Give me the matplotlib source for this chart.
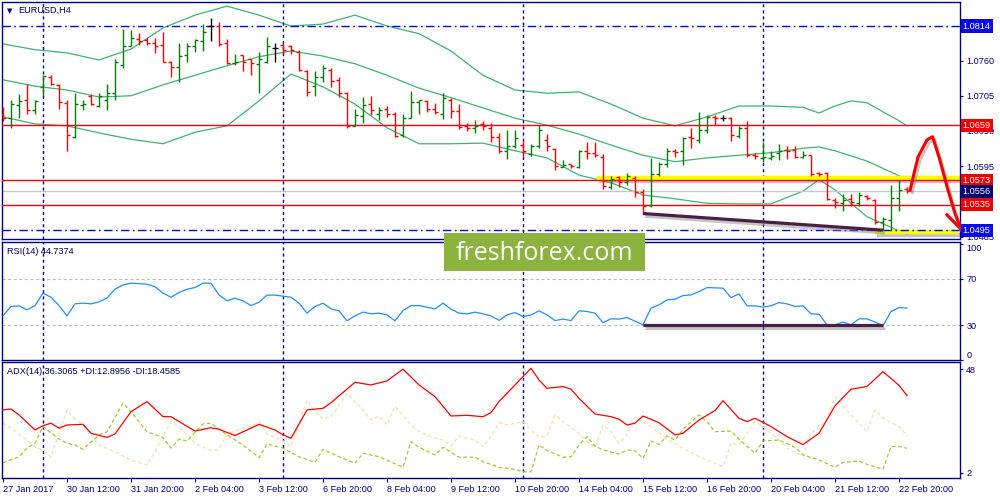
import matplotlib
matplotlib.use('Agg')
from matplotlib import pyplot as plt
from matplotlib import patheffects as pe
from matplotlib import transforms
from matplotlib.collections import LineCollection
from matplotlib.patches import Rectangle

plt.rcParams['font.family'] = ['Liberation Sans', 'DejaVu Sans']

NAVY = '#000080'
UP = '#0a7a0a'
DOWN = '#ff0000'

# EURUSD H4 bars (index 0 = 27 Jan 2017)
opens = [1.0677, 1.0670, 1.0691, 1.0699, 1.0683, 1.0719, 1.0735, 1.0722, 1.0693, 1.0641,
         1.0691, 1.0704, 1.0689, 1.0698, 1.0710, 1.0753, 1.0783, 1.0793, 1.0792, 1.0788,
         1.0784, 1.0757, 1.0750, 1.0769, 1.0782, 1.0791, 1.0814, 1.0814, 1.0788, 1.0756,
         1.0768, 1.0762, 1.0755, 1.0757, 1.0779, 1.0785, 1.0783, 1.0774, 1.0744, 1.0720,
         1.0734, 1.0745, 1.0730, 1.0710, 1.0658, 1.0673, 1.0692, 1.0677, 1.0685, 1.0676,
         1.0644, 1.0671, 1.0696, 1.0697, 1.0685, 1.0677, 1.0699, 1.0681, 1.0657, 1.0654,
         1.0661, 1.0654, 1.0641, 1.0618, 1.0626, 1.0628, 1.0614, 1.0627, 1.0636, 1.0622,
         1.0594, 1.0598, 1.0594, 1.0618, 1.0616, 1.0610, 1.0563, 1.0578, 1.0571, 1.0576,
         1.0554, 1.0534, 1.0583, 1.0599, 1.0619, 1.0618, 1.0640, 1.0636, 1.0651, 1.0672,
         1.0671, 1.0670, 1.0642, 1.0654, 1.0612, 1.0607, 1.0607, 1.0615, 1.0620, 1.0620,
         1.0610, 1.0612, 1.0584, 1.0585, 1.0542, 1.0537, 1.0543, 1.0538, 1.0548, 1.0542,
         1.0508, 1.0511, 1.0545, 1.0560]
highs = [1.0688, 1.0698, 1.0707, 1.0723, 1.0698, 1.0737, 1.0737, 1.0724, 1.0698, 1.0709,
         1.0698, 1.0707, 1.0710, 1.0723, 1.0763, 1.0810, 1.0808, 1.0803, 1.0795, 1.0796,
         1.0804, 1.0759, 1.0787, 1.0787, 1.0793, 1.0817, 1.0826, 1.0821, 1.0793, 1.0771,
         1.0769, 1.0763, 1.0774, 1.0797, 1.0787, 1.0788, 1.0785, 1.0776, 1.0745, 1.0743,
         1.0753, 1.0748, 1.0735, 1.0711, 1.0684, 1.0703, 1.0705, 1.0688, 1.0689, 1.0679,
         1.0676, 1.0713, 1.0699, 1.0698, 1.0693, 1.0709, 1.0701, 1.0692, 1.0663, 1.0667,
         1.0666, 1.0662, 1.0647, 1.0651, 1.0651, 1.0635, 1.0630, 1.0659, 1.0645, 1.0623,
         1.0605, 1.0599, 1.0620, 1.0632, 1.0632, 1.0614, 1.0579, 1.0579, 1.0584, 1.0579,
         1.0560, 1.0607, 1.0602, 1.0623, 1.0622, 1.0641, 1.0655, 1.0679, 1.0675, 1.0675,
         1.0675, 1.0672, 1.0657, 1.0665, 1.0615, 1.0633, 1.0618, 1.0630, 1.0627, 1.0626,
         1.0618, 1.0613, 1.0586, 1.0586, 1.0545, 1.0552, 1.0552, 1.0554, 1.0550, 1.0543,
         1.0515, 1.0566, 1.0574, 1.0562]
lows = [1.0666, 1.0655, 1.0670, 1.0677, 1.0677, 1.0705, 1.0722, 1.0685, 1.0618, 1.0639,
        1.0683, 1.0691, 1.0688, 1.0683, 1.0698, 1.0748, 1.0782, 1.0785, 1.0785, 1.0772,
        1.0757, 1.0735, 1.0727, 1.0758, 1.0774, 1.0775, 1.0791, 1.0782, 1.0755, 1.0753,
        1.0743, 1.0737, 1.0710, 1.0756, 1.0757, 1.0771, 1.0771, 1.0743, 1.0705, 1.0704,
        1.0727, 1.0719, 1.0703, 1.0654, 1.0657, 1.0662, 1.0675, 1.0667, 1.0672, 1.0641,
        1.0640, 1.0670, 1.0677, 1.0680, 1.0676, 1.0668, 1.0671, 1.0653, 1.0650, 1.0647,
        1.0651, 1.0633, 1.0615, 1.0606, 1.0623, 1.0610, 1.0611, 1.0624, 1.0619, 1.0589,
        1.0593, 1.0592, 1.0592, 1.0606, 1.0610, 1.0560, 1.0560, 1.0563, 1.0566, 1.0547,
        1.0521, 1.0531, 1.0579, 1.0594, 1.0610, 1.0597, 1.0623, 1.0631, 1.0647, 1.0659,
        1.0666, 1.0635, 1.0639, 1.0610, 1.0606, 1.0602, 1.0605, 1.0605, 1.0606, 1.0608,
        1.0607, 1.0580, 1.0579, 1.0542, 1.0529, 1.0525, 1.0532, 1.0533, 1.0542, 1.0505,
        1.0495, 1.0495, 1.0525, 1.0553]
closes = [1.0671, 1.0692, 1.0697, 1.0682, 1.0697, 1.0736, 1.0723, 1.0696, 1.0644, 1.0692,
          1.0692, 1.0692, 1.0704, 1.0709, 1.0758, 1.0783, 1.0795, 1.0790, 1.0788, 1.0782,
          1.0758, 1.0750, 1.0767, 1.0782, 1.0792, 1.0805, 1.0814, 1.0786, 1.0756, 1.0758,
          1.0757, 1.0756, 1.0763, 1.0783, 1.0779, 1.0776, 1.0776, 1.0745, 1.0711, 1.0734,
          1.0748, 1.0728, 1.0710, 1.0658, 1.0675, 1.0691, 1.0683, 1.0683, 1.0676, 1.0642,
          1.0670, 1.0696, 1.0698, 1.0684, 1.0679, 1.0701, 1.0681, 1.0656, 1.0654, 1.0658,
          1.0658, 1.0641, 1.0618, 1.0626, 1.0639, 1.0619, 1.0627, 1.0651, 1.0626, 1.0596,
          1.0597, 1.0595, 1.0618, 1.0615, 1.0612, 1.0564, 1.0575, 1.0571, 1.0579, 1.0554,
          1.0532, 1.0583, 1.0598, 1.0618, 1.0617, 1.0639, 1.0639, 1.0651, 1.0672, 1.0670,
          1.0671, 1.0644, 1.0654, 1.0612, 1.0611, 1.0610, 1.0611, 1.0618, 1.0618, 1.0610,
          1.0612, 1.0583, 1.0583, 1.0543, 1.0539, 1.0542, 1.0539, 1.0550, 1.0546, 1.0508,
          1.0513, 1.0545, 1.0558, 1.0556]

# Bollinger bands (read every few bars)
bb_up_x = [0, 4, 8, 12, 16, 20, 24, 28, 32, 36, 40, 44, 48, 52, 56, 60, 64, 68, 72, 76,
           80, 84, 88, 92, 96, 100, 102, 104, 106, 108, 112, 113]
bb_up = [1.0786, 1.0777, 1.0772, 1.0761, 1.0778, 1.0811, 1.0831, 1.0845, 1.0831, 1.0814,
         1.0817, 1.0831, 1.0814, 1.0802, 1.0775, 1.0737, 1.0714, 1.0709, 1.0711, 1.0692,
         1.0670, 1.0658, 1.0672, 1.0689, 1.0689, 1.0687, 1.0678, 1.0689, 1.0697, 1.0694,
         1.0666, 1.0658]
bb_mid_x = [0, 4, 8, 12, 16, 20, 24, 28, 32, 36, 40, 44, 48, 52, 56, 60, 64, 68, 72, 76,
            80, 84, 88, 92, 96, 100, 102, 104, 108, 112, 113]
bb_mid = [1.0730, 1.0720, 1.0714, 1.0703, 1.0705, 1.0722, 1.0737, 1.0752, 1.0766, 1.0775,
          1.0767, 1.0755, 1.0737, 1.0717, 1.0702, 1.0686, 1.0670, 1.0659, 1.0645, 1.0628,
          1.0612, 1.0602, 1.0608, 1.0612, 1.0616, 1.0623, 1.0625, 1.0619, 1.0603, 1.0580,
          1.0574]
bb_low_x = bb_mid_x
bb_low = [1.0672, 1.0661, 1.0658, 1.0647, 1.0637, 1.0630, 1.0648, 1.0658, 1.0697, 1.0739,
          1.0719, 1.0692, 1.0655, 1.0630, 1.0630, 1.0631, 1.0619, 1.0608, 1.0581, 1.0569,
          1.0550, 1.0544, 1.0537, 1.0536, 1.0536, 1.0556, 1.0574, 1.0558, 1.0516, 1.0494,
          1.0489]

# RSI(14)
rsi_x = [0, 1, 2, 3, 4, 5, 6, 7, 8, 9, 10, 11, 12, 13, 14, 15, 16,
         18, 19, 20, 21, 22, 23, 24, 25, 26, 27, 28, 29, 30, 31, 32, 33, 34,
         36, 37, 38, 39, 40, 41, 42, 43, 44, 45, 46, 47, 48, 49, 50, 51, 52,
         54, 55, 56, 57, 58, 59, 60, 61, 62, 63, 64, 65, 66, 67, 68, 69, 70, 71, 72, 73, 74,
         75, 76, 77, 78,
         80, 81, 82, 83, 84, 85, 86, 87, 88,
         90, 91, 92, 93, 94, 95, 96, 97, 98, 99, 100, 101, 102, 103, 104, 105, 106, 107,
         108, 109, 110, 111, 112, 113]
rsi = [38.0, 46.0, 46.6, 43.1, 46.8, 57.5, 54.0, 46.8, 38.0, 48.3, 48.9, 48.3, 50.0, 53.2,
       60.9, 64.6, 66.1,
       65.2, 63.1, 57.5, 54.0, 58.0, 60.9, 62.3, 66.1, 66.1, 56.0, 50.9, 53.2, 50.9, 46.8,
       49.7, 55.8, 55.8,
       54.0, 48.9, 40.3, 46.0, 48.9, 44.0, 42.3, 33.7, 38.0, 41.2, 39.7, 40.3, 38.8, 33.7,
       42.5, 46.8, 46.8,
       44.0, 48.9, 43.7, 40.3, 39.7, 41.2, 39.7, 38.0, 34.1, 38.8, 40.8, 37.4, 38.8, 42.3,
       38.8, 33.9, 35.2, 33.9, 42.3, 41.7, 40.3, 32.2, 35.4, 35.2, 36.5,
       30.3, 44.6, 47.4, 51.7, 52.3, 55.4, 56.0, 58.8, 62.3,
       61.8, 53.7, 56.9, 46.6, 46.6, 45.5, 46.6, 49.4, 48.3, 46.0, 46.6, 39.7, 39.4, 30.3,
       30.3, 32.6, 30.3, 35.4, 35.4, 32.6, 29.7, 41.7, 45.1, 44.7]

# ADX(14), +DI, -DI
adx_x = [0, 1, 2, 4, 5, 6, 7, 8, 10, 11, 13, 14, 16, 18, 20, 21, 24, 26, 27, 29,
         32, 34, 35, 36, 38, 40, 41, 44, 46, 48, 50, 52, 54, 56, 58, 60, 61, 62, 64, 66,
         67, 68, 70, 71, 72, 74, 76, 77, 78, 79, 80, 82, 84, 85, 87, 89, 90, 92, 93, 94,
         96, 98, 100, 102, 104, 106, 108, 110, 111, 112, 113]
adx = [29.9, 30.3, 27.7, 21.0, 22.9, 24.0, 21.8, 23.2, 23.5, 19.5, 17.7, 19.2, 29.1, 33.6,
       26.9, 26.9, 20.5, 22.0, 21.3, 18.5, 23.5, 21.0, 18.8, 17.3, 29.9, 30.6, 33.1, 42.2,
       41.0, 42.8, 48.0, 41.0, 35.8, 27.2, 27.5, 26.9, 28.7, 33.6, 41.0, 48.4, 43.2, 39.5,
       40.3, 39.1, 35.1, 28.1, 26.9, 25.8, 23.2, 24.0, 27.2, 24.2, 18.8, 19.5, 25.4, 29.6,
       34.0, 26.2, 24.7, 26.2, 22.5, 18.0, 14.5, 19.5, 31.7, 39.1, 40.3, 46.9, 43.9, 40.8,
       36.3]
pdi_x = [0, 2, 3, 4, 5, 7, 8, 9, 10, 12, 13, 15, 16, 18, 20, 21, 22, 23, 25, 26,
         28, 30, 32, 33, 35, 37, 39, 40, 42, 44, 45, 47, 50, 51, 52, 54, 55, 57, 59, 60,
         62, 64, 65, 66, 67, 68, 70, 71, 72, 73, 74, 75, 77, 78, 79, 80, 81, 82, 83, 84,
         85, 87, 88, 89, 91, 92, 94, 95, 97, 99, 100, 102, 104, 105, 106, 107, 108, 110,
         111, 112, 113]
pdi = [6.4, 9.1, 12.9, 15.1, 22.5, 16.9, 15.1, 14.3, 12.4, 18.8, 20.2, 32.9, 29.1, 20.2,
       17.7, 12.9, 16.9, 16.1, 23.7, 24.0, 18.8, 14.3, 8.7, 14.8, 12.9, 9.1, 6.6, 12.4,
       9.1, 6.2, 10.6, 9.1, 4.4, 15.8, 13.3, 9.9, 13.3, 8.9, 8.9, 6.9, 4.4, 3.5, 2.4, 2.4,
       14.3, 11.8, 8.9, 9.1, 14.3, 18.0, 13.9, 12.1, 10.3, 12.1, 11.8, 8.4, 16.1, 14.6,
       18.3, 16.5, 21.3, 27.7, 24.7, 20.2, 20.5, 16.9, 10.6, 16.1, 16.5, 13.3, 9.9, 7.7,
       4.4, 6.6, 6.9, 7.2, 5.7, 3.5, 13.6, 13.6, 12.9]
mdi_x = [0, 1, 3, 4, 5, 6, 8, 9, 10, 12, 14, 16, 18, 19, 21, 22, 24, 26, 27, 28,
         30, 31, 32, 33, 35, 36, 38, 39, 40, 41, 43, 45, 46, 47, 48, 49, 51, 52, 54, 55,
         56, 57, 59, 60, 61, 62, 63, 65, 66, 67, 68, 69, 70, 72, 73, 74, 75, 76, 77, 78,
         79, 81, 83, 85, 87, 89, 90, 91, 92, 94, 95, 97, 98, 100, 101, 103, 104, 105, 106,
         108, 109, 110, 112, 113]
mdi = [24.2, 21.8, 16.5, 13.3, 12.1, 8.9, 29.9, 25.8, 23.2, 14.3, 11.3, 7.6, 5.4, 11.3,
       24.7, 22.5, 15.1, 11.8, 12.4, 19.2, 21.8, 22.5, 24.7, 19.2, 16.2, 13.6, 34.3, 29.1,
       25.8, 26.9, 37.3, 29.9, 25.4, 27.2, 23.2, 31.4, 23.2, 20.2, 17.3, 16.5, 13.9, 18.3,
       16.5, 13.6, 18.0, 24.3, 23.2, 24.7, 21.0, 17.7, 18.3, 27.7, 24.7, 19.5, 15.8, 13.3,
       23.2, 20.2, 15.1, 18.8, 26.6, 22.5, 16.9, 12.9, 9.1, 6.2, 4.7, 15.1, 14.3, 24.7,
       22.5, 16.5, 12.9, 9.4, 19.5, 25.4, 35.8, 31.7, 27.7, 20.2, 29.9, 26.2, 22.5, 18.5]

date_bars = [0, 8, 16, 24, 32, 40, 48, 56, 64, 72, 80, 88, 96, 104, 112]
date_labels = ['27 Jan 2017', '30 Jan 12:00', '31 Jan 20:00', '2 Feb 04:00', '3 Feb 12:00',
               '6 Feb 20:00', '8 Feb 04:00', '9 Feb 12:00', '10 Feb 20:00', '14 Feb 04:00',
               '15 Feb 12:00', '16 Feb 20:00', '20 Feb 04:00', '21 Feb 12:00', '22 Feb 20:00']
week_bars = [5, 35, 65, 95]

price_ticks = [1.0485, 1.0540, 1.0595, 1.0650, 1.0705, 1.0760, 1.0815]
price_tick_labels = ['1.0485', '', '1.0595', '1.0650', '1.0705', '1.0760', '']
red_levels = [1.0659, 1.0573, 1.0535]
blue_levels = [1.0814, 1.0495]
bid = 1.0556
price_tags = [(1.0814, '#0a0ae6'), (1.0659, '#f00000'), (1.0573, '#f00000'),
              (1.0556, '#00006e'), (1.0535, '#f00000'), (1.0495, '#0a0ae6')]

# drawn objects
zone_top_x = [74.25, 119.6]
zone_top_y = 1.0576
zone_bot_x = [109.0, 119.4]
zone_bot_y = 1.0492
trend_x = [80, 110]
trend_y = [1.0521, 1.0495]
rsi_trend_x = [80, 110]
rsi_trend_y = [30.2, 30.2]
arrow_x = [113.4, 113.9, 114.4, 115.5, 116.2, 117.1, 118.0, 119.0, 119.8]
arrow_y = [1.0558, 1.0585, 1.0610, 1.0636, 1.0641, 1.0605, 1.0563, 1.0521, 1.0495]
wing_x = [118.0, 119.8]
wing_y = [1.0519, 1.0496]

XMIN, XMAX = -0.125, 119.625


def style_panel(a):
    a.set_xlim(XMIN, XMAX)
    for s in a.spines.values():
        s.set_color(NAVY)
        s.set_linewidth(1)
    a.yaxis.tick_right()
    a.tick_params(axis='y', direction='out', length=2.5, width=0.8, color=NAVY,
                  labelcolor=NAVY, labelsize=6.6, pad=2)
    a.tick_params(axis='x', bottom=False, labelbottom=False)
    for b in week_bars:
        a.axvline(b, color=NAVY, lw=1, ls=(0, (2.2, 2.2)), zorder=1.5)


shadow = [pe.SimpleLineShadow(offset=(1.5, -2), shadow_color='gray', alpha=0.45), pe.Normal()]

fig = plt.figure(figsize=(10, 5), dpi=100)
ax = fig.add_axes([0.002, 0.522, 0.958, 0.474])
ax_rsi = fig.add_axes([0.002, 0.28, 0.958, 0.236])
ax_adx = fig.add_axes([0.002, 0.044, 0.958, 0.232])

# ---- price panel
style_panel(ax)
ax.set_ylim(1.04812, 1.08515)
ax.set_yticks(price_ticks)
ax.set_yticklabels(price_tick_labels)

ax.plot(bb_up_x, bb_up, color='#3cb371', lw=0.9, zorder=1)
ax.plot(bb_mid_x, bb_mid, color='#3cb371', lw=0.9, zorder=1)
ax.plot(bb_low_x, bb_low, color='#3cb371', lw=0.9, zorder=1)

ax.axhline(bid, color='#c8c8c8', lw=1, zorder=1.2)
ax.plot(zone_top_x, [zone_top_y] * 2, color='#ffff00', lw=3.2, zorder=2,
        solid_capstyle='butt', path_effects=shadow)
ax.plot(zone_bot_x, [zone_bot_y] * 2, color='#ffff00', lw=3.2, zorder=2,
        solid_capstyle='butt', path_effects=shadow)
for lvl in red_levels:
    ax.axhline(lvl, color='#ff0000', lw=1, zorder=3)
for lvl in blue_levels:
    ax.axhline(lvl, color='#0000ff', lw=1, ls=(0, (6, 2.5, 1.2, 2.5)), zorder=3)

segs, cols = [], []
for i in range(len(opens)):
    o, h, l, c = opens[i], highs[i], lows[i], closes[i]
    col = UP if c > o else (DOWN if c < o else 'black')
    segs += [[(i, l), (i, h)], [(i - 0.375, o), (i, o)], [(i, c), (i + 0.375, c)]]
    cols += [col] * 3
ax.add_collection(LineCollection(segs, colors=cols, linewidths=1.0, zorder=4))

ax.plot(trend_x, trend_y, color='#4a1f47', lw=2.3, zorder=5, solid_capstyle='butt',
        path_effects=shadow)
ax.plot(arrow_x, arrow_y, color='#f00000', lw=2.2, zorder=6, clip_on=False,
        solid_joinstyle='round', path_effects=shadow)
ax.plot(wing_x, wing_y, color='#f00000', lw=2.2, zorder=6, clip_on=False,
        path_effects=shadow)

tr = transforms.blended_transform_factory(ax.transAxes, ax.transData)
for price, col in price_tags:
    ax.annotate('%.4f' % price, xy=(1, price), xycoords=tr, xytext=(2, 0),
                textcoords='offset points', ha='left', va='center', fontsize=6.6,
                color='white', annotation_clip=False, zorder=10,
                bbox=dict(boxstyle='square,pad=0.22', fc=col, ec='none'))

# ---- RSI panel
style_panel(ax_rsi)
ax_rsi.set_ylim(0.2, 101.5)
ax_rsi.set_yticks([0, 30, 70, 100])
ax_rsi.set_yticklabels(['0', '30', '70', '100'])
labs = ax_rsi.get_yticklabels()
labs[0].set_va('bottom')
labs[-1].set_va('top')
for lvl in [30, 70]:
    ax_rsi.axhline(lvl, color='#c0c0c0', lw=0.8, ls=(0, (3, 2)), zorder=1)
ax_rsi.plot(rsi_x, rsi, color='#1e90ff', lw=0.9, zorder=3)
ax_rsi.plot(rsi_trend_x, rsi_trend_y, color='#4a1f47', lw=2.3, zorder=4,
            solid_capstyle='butt', path_effects=shadow)

# ---- ADX panel
style_panel(ax_adx)
ax_adx.set_ylim(-0.36, 51.2)
ax_adx.set_yticks([2, 48])
ax_adx.set_yticklabels(['2', '48'])
ax_adx.plot(mdi_x, mdi, color='#f5deb3', lw=0.9, ls=(0, (3, 2)), zorder=2)
ax_adx.plot(pdi_x, pdi, color='#9acd32', lw=0.9, ls=(0, (3, 2)), zorder=2)
ax_adx.plot(adx_x, adx, color='#ff0000', lw=0.9, zorder=3)
ax_adx.set_xticks(date_bars)
ax_adx.set_xticklabels(date_labels)
ax_adx.tick_params(axis='x', bottom=True, labelbottom=True, direction='out', length=3,
                   width=0.8, color=NAVY, labelcolor=NAVY, labelsize=6.6, pad=2)
for lab in ax_adx.get_xticklabels():
    lab.set_ha('left')

# ---- captions
fig.text(0.007, 1 - 11 / 500, '\u25bc', fontsize=5, color=NAVY, va='center',
         family='DejaVu Sans')
fig.text(0.018, 1 - 10.5 / 500, 'EURUSD,H4', fontsize=6.6, color='#000050', va='center')
fig.text(0.007, 1 - 252 / 500, 'RSI(14) 44.7374', fontsize=6.6, color='#000050', va='center')
fig.text(0.007, 1 - 372 / 500, 'ADX(14) 36.3065 +DI:12.8956 -DI:18.4585', fontsize=6.6,
         color='#000050', va='center')

# watermark
fig.add_artist(Rectangle((0.444, 0.458), 0.201, 0.076, transform=fig.transFigure,
                         fc='#8db33f', ec='none', zorder=20))
fig.text(0.5445, 0.494, 'freshforex.com', ha='center', va='center', color='white',
         fontsize=18, family=['Open Sans', 'DejaVu Sans'], zorder=21)

fig.savefig('out.png', dpi=100)
